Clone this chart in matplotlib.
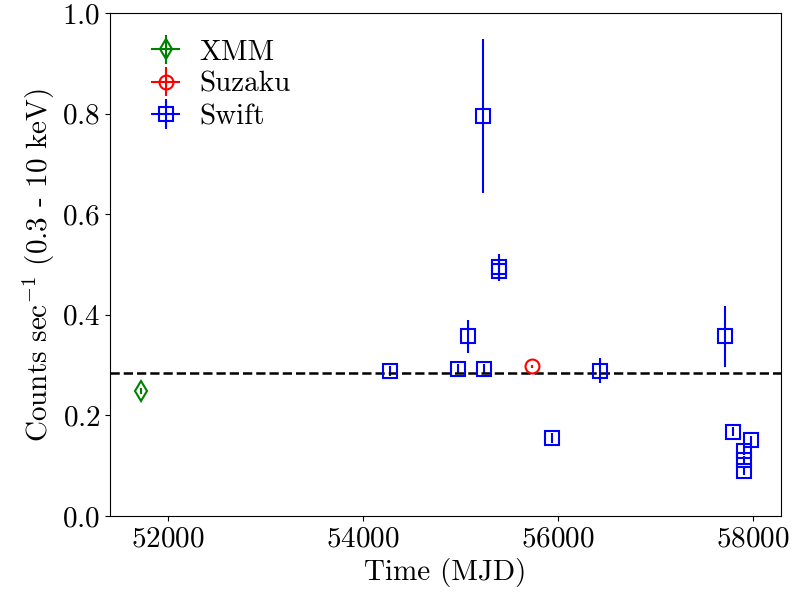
import matplotlib
matplotlib.use("Agg")
import matplotlib.pyplot as plt

# -------------------------------
# Data
# -------------------------------
xmm_t = [51720]
xmm_rate = [0.249]
xmm_err = [0.006]
xmm_dt = [2]

suzaku_t = [55730]
suzaku_rate = [0.298]
suzaku_err = [0.003]
suzaku_dt = [2]

swift_t = [54275, 54975, 55237, 55077, 55229, 55390, 55390, 55933, 56432,
           57706, 57795, 57972, 57900, 57900, 57900]
swift_rate = [0.289, 0.292, 0.292, 0.357, 0.796, 0.495, 0.488, 0.156, 0.289,
              0.357, 0.168, 0.152, 0.130, 0.112, 0.090]
swift_err = [0.010, 0.010, 0.010, 0.033, 0.153, 0.026, 0.020, 0.010, 0.025,
             0.060, 0.008, 0.008, 0.008, 0.008, 0.008]
swift_dt = [1] * len(swift_t)

mean_rate = 0.285

# -------------------------------
# Style
# -------------------------------
plt.rcParams["font.family"] = "serif"
plt.rcParams["font.serif"] = ["cmr10"]
plt.rcParams["mathtext.fontset"] = "cm"
plt.rcParams["axes.formatter.use_mathtext"] = True
plt.rcParams["font.size"] = 21

fig = plt.figure(figsize=(7.98, 6.06), dpi=100)
ax = fig.add_axes([0.138, 0.1485, 0.841, 0.83])

ax.errorbar(xmm_t, xmm_rate, yerr=xmm_err, xerr=xmm_dt, fmt="d", color="g",
            mfc="none", ms=10, mew=1.5, elinewidth=1.5, label="XMM")
ax.errorbar(suzaku_t, suzaku_rate, yerr=suzaku_err, xerr=suzaku_dt, fmt="o",
            color="r", mfc="none", ms=10, mew=1.5, elinewidth=1.5,
            label="Suzaku")
ax.errorbar(swift_t, swift_rate, yerr=swift_err, xerr=swift_dt, fmt="s",
            color="b", mfc="none", ms=10, mew=1.5, elinewidth=1.5,
            label="Swift")

ax.axhline(mean_rate, color="k", ls="--", lw=1.8)

ax.set_ylim(0, 1.0)
ax.set_xticks([52000, 54000, 56000, 58000])
ax.set_xlabel("Time (MJD)")
ax.set_ylabel(r"Counts sec$^{-1}$ (0.3 - 10 keV)")

ax.legend(loc="upper left", frameon=False, numpoints=1,
          handletextpad=0.16, labelspacing=0.2)

fig.savefig("out.png", dpi=100)
